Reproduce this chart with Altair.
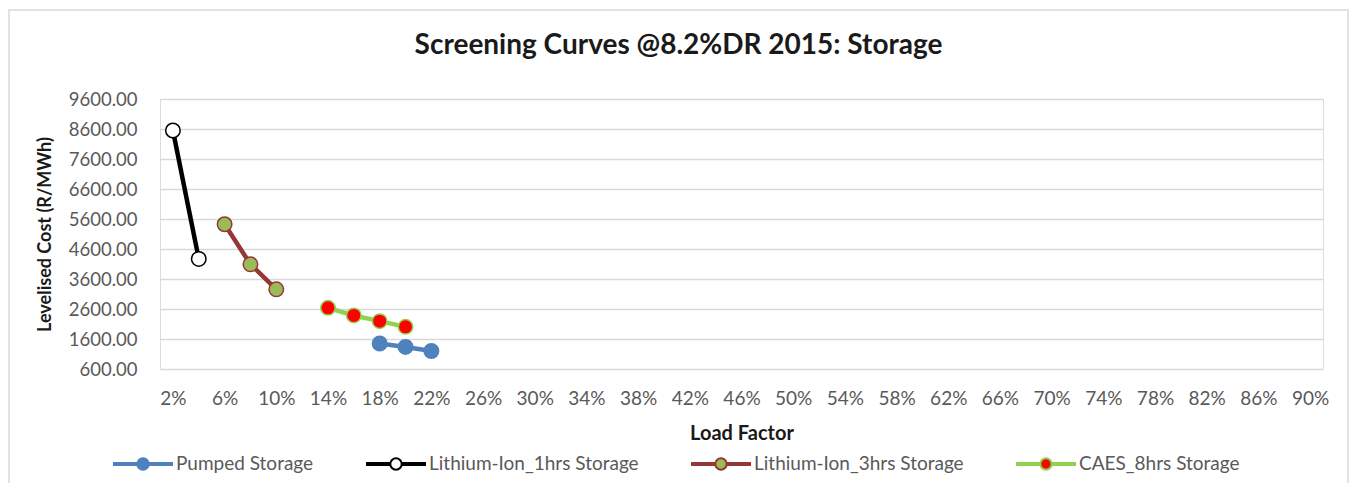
import altair as alt
import pandas as pd

series_names = ["Pumped Storage", "Lithium-Ion_1hrs Storage", "Lithium-Ion_3hrs Storage", "CAES_8hrs Storage"]

pumped_lf = [18, 20, 22]
pumped_cost = [1450, 1335, 1200]

li1_lf = [2, 4]
li1_cost = [8550, 4270]

li3_lf = [6, 8, 10]
li3_cost = [5425, 4090, 3255]

caes_lf = [14, 16, 18, 20]
caes_cost = [2640, 2385, 2195, 2005]

y_ticks = [600, 1600, 2600, 3600, 4600, 5600, 6600, 7600, 8600, 9600]
x_ticks = list(range(2, 91, 4))

line_colors = ["#4F81BD", "#000000", "#953735", "#92D050"]
marker_fill = ["#4F81BD", "#FFFFFF", "#9BBB59", "#FF0000"]

rows = []
for name, lfs, costs in zip(series_names,
                            [pumped_lf, li1_lf, li3_lf, caes_lf],
                            [pumped_cost, li1_cost, li3_cost, caes_cost]):
    for lf, c in zip(lfs, costs):
        rows.append({"series": name, "lf": lf, "cost": c})
df = pd.DataFrame(rows)

FONT = "Lato"
TXT = "#595959"

x_enc = alt.X("lf:Q",
              scale=alt.Scale(domain=[1, 91], nice=False, zero=False),
              axis=alt.Axis(values=x_ticks, labelExpr="datum.value + '%'",
                            title="Load Factor", grid=False, domain=False, ticks=False,
                            labelPadding=20, titlePadding=15, labelFontSize=19,
                            titleFontSize=20, labelColor=TXT, titleColor="#1a1a1a",
                            titleFont=FONT, labelFont=FONT, titleFontWeight="bold"))
y_enc = alt.Y("cost:Q",
              scale=alt.Scale(domain=[600, 9600], nice=False, zero=False),
              axis=alt.Axis(values=y_ticks, format=".2f", title="Levelised Cost (R/MWh)",
                            domain=False, ticks=False, labelPadding=23, titlePadding=14,
                            gridColor="#D9D9D9", gridWidth=1.5, labelFontSize=18.5,
                            titleFontSize=18, labelColor=TXT, titleColor="#1a1a1a",
                            titleFont=FONT, labelFont=FONT, titleFontWeight="bold"))

# legend symbol: line (two thin parallel strokes) broken by a circle marker
r = 0.19
h = 0.033
legend_path = (
    f"M -1 {-h} L {-r} {-h} M -1 {h} L {-r} {h} "
    f"M {r} {-h} L 1 {-h} M {r} {h} L 1 {h} "
    f"M {r} 0 A {r} {r} 0 1 1 {-r} 0 A {r} {r} 0 1 1 {r} 0 Z"
)

def make_legend():
    return alt.Legend(orient="none", legendX=-48, legendY=334, direction="horizontal",
                      columns=4, title=None, labelFont=FONT, labelFontSize=19,
                      labelColor=TXT, labelOffset=2, columnPadding=48, padding=0,
                      symbolSize=3600, labelLimit=400, symbolType=legend_path,
                      symbolStrokeWidth=2)

color_scale = alt.Scale(domain=series_names, range=line_colors)
fill_scale = alt.Scale(domain=series_names, range=marker_fill)

lines = alt.Chart(df).mark_line(strokeWidth=4.5, strokeCap="butt").encode(
    x=x_enc, y=y_enc,
    stroke=alt.Stroke("series:N", scale=color_scale, legend=make_legend()),
)

points = alt.Chart(df).mark_point(filled=False, size=210, shape="circle",
                                  strokeWidth=1.5, opacity=1).encode(
    x=x_enc, y=y_enc,
    fill=alt.Fill("series:N", scale=fill_scale, legend=make_legend()),
    stroke=alt.Stroke("series:N", scale=color_scale, legend=make_legend()),
)

border = alt.Chart(pd.DataFrame({"k": [0]})).mark_rect(
    fill=None, stroke="#D9D9D9", strokeWidth=1.5, clip=False).encode(
    x=alt.value(-151), x2=alt.value(1188), y=alt.value(-89), y2=alt.value(420))

chart = alt.layer(border, lines, points).properties(
    width=1163, height=270,
    autosize=alt.AutoSizeParams(type="none"),
    padding={"left": 152, "top": 91, "right": 26, "bottom": 114},
    title=alt.TitleParams("Screening Curves @8.2%DR 2015: Storage", font=FONT,
                          fontSize=28, fontWeight="bold", color="#1a1a1a",
                          anchor="middle", frame="bounds", offset=-51),
).configure_view(stroke=None).configure(background="white")

chart.save("out.html", embed_options={"renderer": "svg", "actions": False})
